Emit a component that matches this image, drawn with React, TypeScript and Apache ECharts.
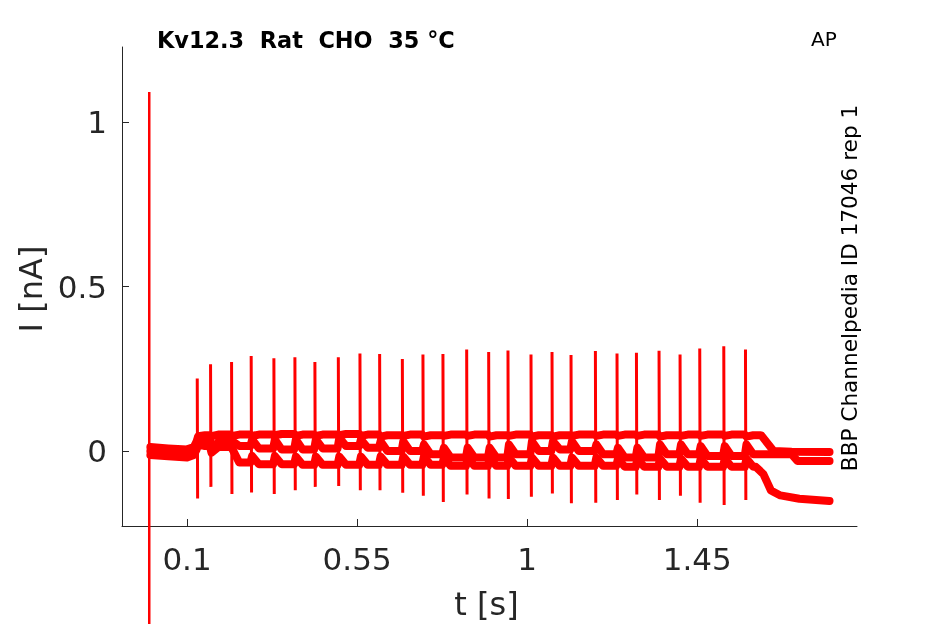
import React, { useEffect, useRef } from "react";
import * as echarts from "echarts";

// ---- data ----
const X_TICKS = [0.1, 0.55, 1, 1.45];
const Y_TICKS = [0, 0.5, 1];

// spike (AP stimulus) times [s], peaks and troughs [nA]
const SPIKE_T = [0.1275, 0.1627, 0.2183, 0.2702, 0.3303, 0.3859, 0.4388, 0.5008, 0.558, 0.6101, 0.6702, 0.7247, 0.7776, 0.8404, 0.8986, 0.9497, 1.0106, 1.0662, 1.1165, 1.181, 1.2382, 1.2896, 1.3494, 1.405, 1.4571, 1.5207, 1.5781];
const SPIKE_PEAK = [0.221, 0.264, 0.271, 0.289, 0.282, 0.285, 0.271, 0.285, 0.297, 0.295, 0.28, 0.294, 0.295, 0.309, 0.301, 0.306, 0.294, 0.301, 0.292, 0.304, 0.297, 0.299, 0.305, 0.294, 0.312, 0.319, 0.309];
const SPIKE_TROUGH = [-0.144, -0.109, -0.131, -0.126, -0.131, -0.119, -0.109, -0.106, -0.119, -0.119, -0.127, -0.136, -0.155, -0.132, -0.144, -0.146, -0.139, -0.129, -0.159, -0.157, -0.149, -0.132, -0.149, -0.136, -0.157, -0.164, -0.149];

// capacitive transient at t = 0
const TRANSIENT = [[0, 1.092], [0, -0.8]];

// trace A (top)
const PRE_A = [[0.003, 0.012], [0.05, 0.008], [0.1, 0.005], [0.118, 0.012], [0.1255, 0.03]];
const LEVEL_A = [0.048, 0.05, 0.05, 0.05, 0.052, 0.05, 0.05, 0.052, 0.05, 0.048, 0.05, 0.048, 0.05, 0.05, 0.048, 0.05, 0.048, 0.048, 0.05, 0.05, 0.05, 0.05, 0.048, 0.05, 0.05, 0.05, 0.048];
const KICK_A = [0.045, 0.045, 0.046, 0.046, 0.048, 0.046, 0.046, 0.048, 0.046, 0.044, 0.046, 0.044, 0.046, 0.046, 0.044, 0.046, 0.044, 0.044, 0.046, 0.046, 0.046, 0.046, 0.044, 0.046, 0.046, 0.046, 0.044];
const TAIL_A = [[1.62, 0.047], [1.652, 0.0], [1.7, -0.002], [1.8, -0.003]];

// trace B (middle)
const PRE_B = [[0.003, 0.0], [0.05, -0.004], [0.1, -0.008], [0.118, 0.0], [0.1255, 0.02]];
const LEVEL_B = [0.035, 0.028, 0.015, 0.008, 0.005, 0.005, 0.008, 0.015, 0.01, 0.0, 0.0, -0.01, -0.02, -0.02, -0.02, -0.01, 0.0, 0.005, 0.0, -0.01, -0.02, -0.02, -0.01, -0.01, -0.015, -0.015, -0.01];
const KICK_B = [0.04, 0.005, 0.03, 0.035, 0.035, 0.035, 0.035, 0.04, 0.035, 0.03, 0.03, 0.02, 0.01, 0.01, 0.01, 0.02, 0.03, 0.03, 0.03, 0.02, 0.01, 0.01, 0.02, 0.02, 0.015, 0.015, 0.02];
const TAIL_B = [[1.7, -0.01], [1.715, -0.03], [1.8, -0.03]];

// trace C (bottom)
const PRE_C = [[0.003, -0.012], [0.05, -0.016], [0.1, -0.02], [0.118, -0.012], [0.1255, 0.005]];
const LEVEL_C = [0.015, 0.012, -0.035, -0.04, -0.04, -0.042, -0.042, -0.042, -0.042, -0.042, -0.042, -0.042, -0.045, -0.045, -0.045, -0.045, -0.045, -0.045, -0.045, -0.045, -0.048, -0.048, -0.048, -0.048, -0.048, -0.048, -0.048];
const KICK_C = [0.02, -0.005, 0.005, -0.015, -0.015, -0.017, -0.017, -0.017, -0.017, -0.017, -0.017, -0.017, -0.02, -0.02, -0.02, -0.02, -0.02, -0.02, -0.02, -0.02, -0.023, -0.023, -0.023, -0.023, -0.023, -0.023, -0.023];
const TAIL_C = [[1.605, -0.048], [1.625, -0.07], [1.645, -0.12], [1.67, -0.135], [1.72, -0.145], [1.8, -0.152]];

const TITLE = "Kv12.3  Rat  CHO  35 °C";
const TAG = "AP";
const SIDE = "BBP Channelpedia ID 17046 rep 1";

function buildTrace(pre: number[][], levels: number[], kicks: number[], tail: number[][]) {
  const pts: number[][] = pre.map((p) => [p[0], p[1]]);
  for (let k = 0; k < SPIKE_T.length; k++) {
    const ts = SPIKE_T[k];
    const tEnd = k < SPIKE_T.length - 1 ? SPIKE_T[k + 1] : tail[0][0];
    pts.push([ts + 0.002, kicks[k]]);
    pts.push([ts + 0.02, levels[k]]);
    pts.push([tEnd - 0.0025, levels[k]]);
  }
  tail.forEach((p) => pts.push([p[0], p[1]]));
  return pts;
}

function buildSpikes() {
  const pts: (number[] | string)[] = [];
  for (let k = 0; k < SPIKE_T.length; k++) {
    pts.push([SPIKE_T[k] - 0.0005, SPIKE_PEAK[k]]);
    pts.push([SPIKE_T[k] + 0.0005, SPIKE_TROUGH[k]]);
    pts.push("-");
  }
  return pts;
}

const RED = "#ff0000";
const AXIS = "#262626";
const FONT = "DejaVu Sans";

export default function App() {
  const ref = useRef<HTMLDivElement>(null);
  useEffect(() => {
    if (!ref.current) return;
    const chart = echarts.init(ref.current, null, { renderer: "svg" });
    const band = { type: "line", symbol: "none", lineStyle: { color: RED, width: 8, join: "round", cap: "round" }, itemStyle: { color: RED } };
    chart.setOption({
      animation: false,
      grid: { left: 122, right: 88, top: 47, bottom: 98, containLabel: false, outerBoundsMode: "none" },
      xAxis: {
        type: "value",
        min: -0.0721,
        max: 1.8727,
        name: "t [s]",
        nameLocation: "middle",
        nameGap: 62,
        nameTextStyle: { fontSize: 32, color: AXIS, fontFamily: FONT, padding: [0, 6, 0, 0] },
        axisLine: { show: true, onZero: false, lineStyle: { color: AXIS, width: 1 } },
        axisTick: { show: true, inside: true, length: 7, customValues: X_TICKS, lineStyle: { color: AXIS } },
        axisLabel: { customValues: X_TICKS, fontSize: 31, color: AXIS, fontFamily: FONT, margin: 17 },
        splitLine: { show: false },
      },
      yAxis: {
        type: "value",
        min: -0.228,
        max: 1.229,
        name: "I [nA]",
        nameLocation: "middle",
        nameGap: 74,
        nameTextStyle: { fontSize: 32, color: AXIS, fontFamily: FONT, padding: [0, 5, 0, 0] },
        axisLine: { show: true, onZero: false, lineStyle: { color: AXIS, width: 1 } },
        axisTick: { show: true, inside: true, length: 7, customValues: Y_TICKS, lineStyle: { color: AXIS } },
        axisLabel: { customValues: Y_TICKS, fontSize: 31, color: AXIS, fontFamily: FONT, margin: 15 },
        splitLine: { show: false },
      },
      graphic: [
        { type: "text", x: 157, y: 39.5, style: { text: TITLE, fontSize: 22.4, fontWeight: "bold", fontFamily: FONT, fill: "#000", align: "left", verticalAlign: "middle" } },
        { type: "text", x: 811, y: 39, style: { text: TAG, fontSize: 20, fontFamily: FONT, fill: "#000", align: "left", verticalAlign: "middle" } },
        { type: "text", x: 849.5, y: 288, rotation: Math.PI / 2, style: { text: SIDE, fontSize: 21.6, fontFamily: FONT, fill: "#000", align: "center", verticalAlign: "middle" } },
      ],
      series: [
        { ...band, name: "C", data: buildTrace(PRE_C, LEVEL_C, KICK_C, TAIL_C) },
        { ...band, name: "B", data: buildTrace(PRE_B, LEVEL_B, KICK_B, TAIL_B) },
        { ...band, name: "A", data: buildTrace(PRE_A, LEVEL_A, KICK_A, TAIL_A) },
        { type: "line", name: "spikes", symbol: "none", data: buildSpikes(), connectNulls: false, lineStyle: { color: RED, width: 3 } },
        { type: "line", name: "transient", symbol: "none", clip: false, data: TRANSIENT, lineStyle: { color: RED, width: 2.5 } },
      ],
    });
    return () => chart.dispose();
  }, []);
  return <div ref={ref} style={{ position: "fixed", left: 0, top: 0, width: 945, height: 624 }} />;
}
